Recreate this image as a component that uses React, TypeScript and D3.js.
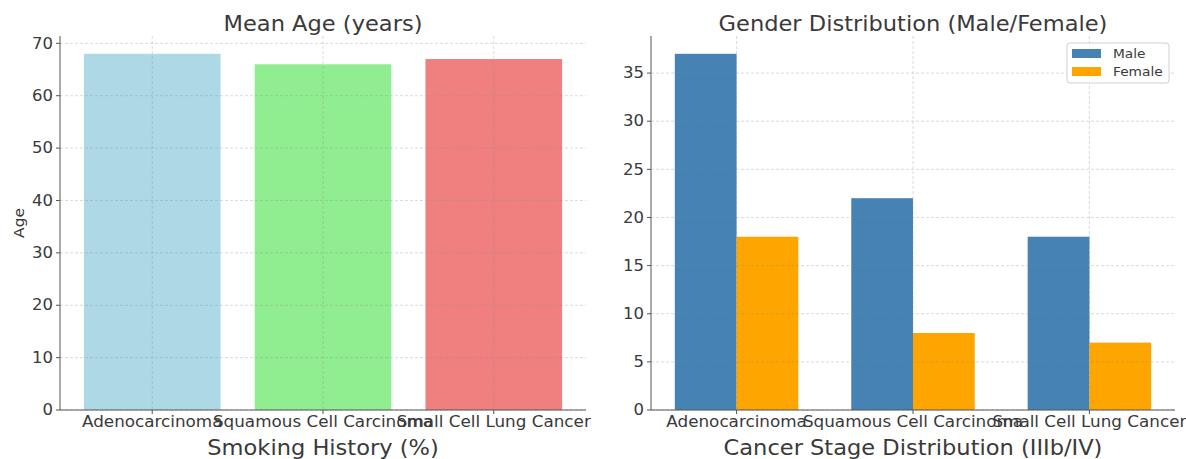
import React from "react";
import * as d3 from "d3";

const categories = ["Adenocarcinoma", "Squamous Cell Carcinoma", "Small Cell Lung Cancer"];
const meanAge = [68, 66, 67];
const ageColors = ["#ADD8E6", "#90EE90", "#F08080"];
const ageTicks = [0, 10, 20, 30, 40, 50, 60, 70];
const maleCounts = [37, 22, 18];
const femaleCounts = [18, 8, 7];
const genderTicks = [0, 5, 10, 15, 20, 25, 30, 35];
const seriesNames = ["Male", "Female"];
const seriesColors = ["#4682B4", "#FFA500"];

const FONT = "DejaVu Sans, sans-serif";
const TEXT = "#3a3a3a";
const SPINE = "#555";
const GRID = "rgba(140,140,140,0.4)";

function SText({ x, y, sx = 1.1, size, anchor = "start", dy = 0, children, rotate = 0 }) {
  return (
    <text
      transform={`translate(${x},${y}) rotate(${rotate}) scale(${sx},1)`}
      textAnchor={anchor}
      dy={dy}
      fontSize={size}
      fill={TEXT}
    >
      {children}
    </text>
  );
}

function Panel({ x0, x1, yTop, yBottom, xDomain, yMax, ticks, title, xlabel, ylabel, children }) {
  const x = d3.scaleLinear().domain(xDomain).range([x0, x1]);
  const y = d3.scaleLinear().domain([0, yMax]).range([yBottom, yTop]);
  const cx = (x0 + x1) / 2;
  return (
    <g fontFamily={FONT}>
      {children(x, y)}
      {ticks.map((t) => (
        <line key={"gy" + t} x1={x0} x2={x1} y1={y(t)} y2={y(t)} stroke={GRID} strokeWidth={0.8} strokeDasharray="3,2" />
      ))}
      {categories.map((c, i) => (
        <line key={"gx" + i} x1={x(i)} x2={x(i)} y1={yTop} y2={yBottom} stroke={GRID} strokeWidth={0.8} strokeDasharray="3,2" />
      ))}
      <line x1={x0} x2={x0} y1={yTop} y2={yBottom} stroke={SPINE} strokeWidth={1} />
      <line x1={x0} x2={x1} y1={yBottom} y2={yBottom} stroke={SPINE} strokeWidth={1} />
      {ticks.map((t) => (
        <g key={"ty" + t}>
          <line x1={x0 - 4} x2={x0} y1={y(t)} y2={y(t)} stroke={SPINE} />
          <SText x={x0 - 7} y={y(t)} dy="0.35em" anchor="end" size={15} sx={1.1}>{t}</SText>
        </g>
      ))}
      {categories.map((c, i) => (
        <g key={"tx" + i}>
          <line x1={x(i)} x2={x(i)} y1={yBottom} y2={yBottom + 4} stroke={SPINE} />
          <SText x={x(i)} y={yBottom + 17} anchor="middle" size={15} sx={1.12}>{c}</SText>
        </g>
      ))}
      <SText x={cx} y={31} anchor="middle" size={20.5} sx={1.1}>{title}</SText>
      <SText x={cx} y={455} anchor="middle" size={20.5} sx={1.1}>{xlabel}</SText>
      {ylabel && (
        <SText x={19} y={(yTop + yBottom) / 2} rotate={-90} anchor="middle" dy="0.35em" size={14} sx={1.1}>{ylabel}</SText>
      )}
    </g>
  );
}

export default function App() {
  const barW = 0.8;
  const gw = 0.35;
  return (
    <svg width={1186} height={459} style={{ position: "absolute", left: 0, top: 0, background: "#fff" }}>
      <Panel x0={60} x1={586} yTop={36} yBottom={410} xDomain={[-0.54, 2.54]} yMax={71.4} ticks={ageTicks}
        title="Mean Age (years)" xlabel="Smoking History (%)" ylabel="Age">
        {(x, y) => meanAge.map((v, i) => (
          <rect key={i} x={x(i - barW / 2)} width={x(i + barW / 2) - x(i - barW / 2)} y={y(v)} height={y(0) - y(v)} fill={ageColors[i]} />
        ))}
      </Panel>
      <Panel x0={651} x1={1175} yTop={36} yBottom={410} xDomain={[-0.485, 2.485]} yMax={38.85} ticks={genderTicks}
        title="Gender Distribution (Male/Female)" xlabel="Cancer Stage Distribution (IIIb/IV)" ylabel={null}>
        {(x, y) => (
          <g>
            {maleCounts.map((v, i) => (
              <rect key={"m" + i} x={x(i - gw)} width={x(i) - x(i - gw)} y={y(v)} height={y(0) - y(v)} fill={seriesColors[0]} />
            ))}
            {femaleCounts.map((v, i) => (
              <rect key={"f" + i} x={x(i)} width={x(i + gw) - x(i)} y={y(v)} height={y(0) - y(v)} fill={seriesColors[1]} />
            ))}
          </g>
        )}
      </Panel>
      <g fontFamily={FONT}>
        <rect x={1067} y={43} width={102} height={40} rx={3} fill="#fff" fillOpacity={0.85} stroke="#d0d0d0" />
        {seriesNames.map((s, i) => (
          <g key={s}>
            <rect x={1072} y={49 + i * 18} width={29} height={9} fill={seriesColors[i]} />
            <SText x={1113} y={53.5 + i * 18} dy="0.35em" size={12.5} sx={1.1}>{s}</SText>
          </g>
        ))}
      </g>
    </svg>
  );
}
